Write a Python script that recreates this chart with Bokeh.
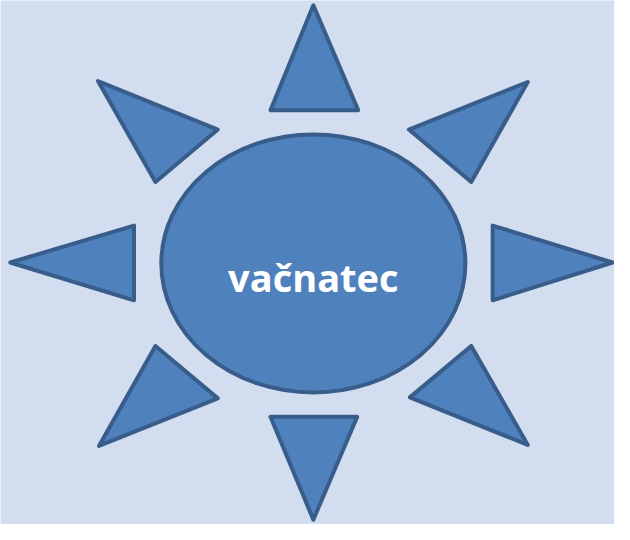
import numpy as np
from bokeh.plotting import figure
from bokeh.models import Range1d
from bokeh.core.properties import value
from bokeh.embed import file_html
from bokeh.resources import INLINE

# Triangle rays (vertex coordinates in picture units, y downward)
ray_xs = [
    [321, 277, 367],   # top
    [541, 419, 483],   # top-right
    [628, 505, 505],   # right
    [541, 420, 483],   # bottom-right
    [321, 277, 366],   # bottom
    [101, 223, 159],   # bottom-left
    [10, 137, 137],    # left
    [100, 223, 159],   # top-left
]
ray_ys = [
    [5, 113, 113],
    [84, 133, 187],
    [270, 232, 309],
    [458, 409, 356],
    [535, 429, 429],
    [459, 410, 356],
    [270, 232, 309],
    [83, 133, 187],
]

# Central ellipse
body_x = [321]
body_y = [271]
body_w = [312]
body_h = [266]

label = ["vačnatec"]
label_x = [321]
label_y = [285]

W, H = 630, 540

p = figure(width=614, height=524, x_range=Range1d(0, W), y_range=Range1d(H, 0),
           output_backend="svg", toolbar_location=None, min_border=0)
p.axis.visible = False
p.grid.visible = False
p.outline_line_color = None
p.background_fill_color = "#d2ddf0"
p.border_fill_color = "#d2ddf0"

# diagonal gradient background
ny, nx = 108, 126
gx = np.linspace(0, 1, nx)[None, :]
gy = np.linspace(0, 1, ny)[:, None]
t = (gx * 0.55 + gy * 0.45)
c0 = np.array([220, 228, 243])
c1 = np.array([197, 211, 236])
img = np.zeros((ny, nx), dtype=np.uint32)
view = img.view(dtype=np.uint8).reshape((ny, nx, 4))
for k in range(3):
    view[:, :, k] = (c0[k] + (c1[k] - c0[k]) * t).astype(np.uint8)
view[:, :, 3] = 255
p.image_rgba(image=[img], x=0, y=0, dw=W, dh=H, origin="top_left", anchor="top_left")

p.patches(ray_xs, ray_ys, fill_color="#4f81bd", line_color="#385d8a", line_width=4,
          line_join="round")
p.ellipse(x=body_x, y=body_y, width=body_w, height=body_h,
          fill_color="#4f81bd", line_color="#385d8a", line_width=4)
p.text(x=label_x, y=label_y, text=label, text_color="white",
       text_font=value("Open Sans"), text_font_style="bold", text_font_size="38px",
       text_align="center", text_baseline="alphabetic")

open("out.html", "w").write(file_html(p, INLINE))
